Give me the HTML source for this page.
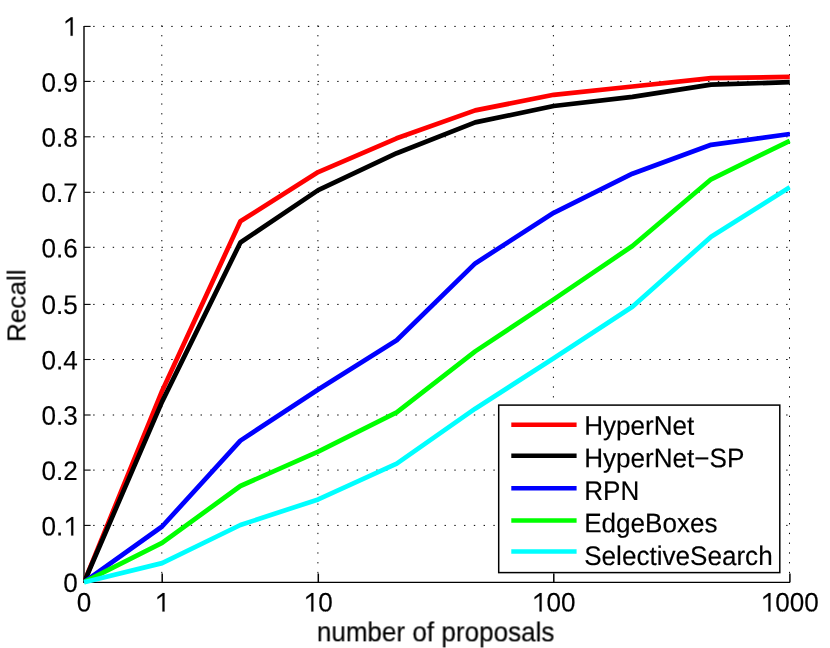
<!DOCTYPE html>
<html><head><meta charset="utf-8"><title>Recall vs number of proposals</title>
<style>
html,body{margin:0;padding:0;background:#fff;}
body{width:830px;height:648px;overflow:hidden;}
svg{display:block;}
text{font-family:"Liberation Sans",sans-serif;fill:#000;}
g.t{filter:grayscale(1);stroke:#000;stroke-width:0.15px;}
</style></head><body>
<svg width="830" height="648" viewBox="0 0 830 648">
<rect width="830" height="648" fill="#fff"/>
<g stroke="#000" stroke-width="1" fill="none">
<line x1="93.2" y1="26.4" x2="790.4" y2="26.4" stroke-dasharray="1.4 8.36"/>
<line x1="93.2" y1="81.4" x2="790.4" y2="81.4" stroke-dasharray="1.4 8.36"/>
<line x1="93.2" y1="136.8" x2="790.4" y2="136.8" stroke-dasharray="1.4 8.36"/>
<line x1="93.2" y1="192.3" x2="790.4" y2="192.3" stroke-dasharray="1.4 8.36"/>
<line x1="93.2" y1="247.3" x2="790.4" y2="247.3" stroke-dasharray="1.4 8.36"/>
<line x1="93.2" y1="304.4" x2="790.4" y2="304.4" stroke-dasharray="1.4 8.36"/>
<line x1="93.2" y1="359.5" x2="790.4" y2="359.5" stroke-dasharray="1.4 8.36"/>
<line x1="93.2" y1="415.0" x2="790.4" y2="415.0" stroke-dasharray="1.4 8.36"/>
<line x1="93.2" y1="470.1" x2="790.4" y2="470.1" stroke-dasharray="1.4 8.36"/>
<line x1="93.2" y1="525.4" x2="790.4" y2="525.4" stroke-dasharray="1.4 8.36"/>
<line x1="161.8" y1="25.3" x2="161.8" y2="581.2" stroke-dasharray="1.3 8.46"/>
<line x1="317.9" y1="25.3" x2="317.9" y2="581.2" stroke-dasharray="1.3 8.46"/>
<line x1="553.4" y1="25.3" x2="553.4" y2="581.2" stroke-dasharray="1.3 8.46"/>
<line x1="789.5" y1="25.3" x2="789.5" y2="581.2" stroke-dasharray="1.3 8.46"/>
</g>
<line x1="84" y1="25.9" x2="84" y2="582.7" stroke="#000" stroke-width="1.4"/>
<line x1="83.3" y1="582.4" x2="790.1" y2="582.4" stroke="#000" stroke-width="1.15"/>
<g stroke="#000" stroke-width="1.1">
<line x1="84.1" y1="26.4" x2="90.6" y2="26.4"/>
<line x1="84.1" y1="81.4" x2="90.6" y2="81.4"/>
<line x1="84.1" y1="136.8" x2="90.6" y2="136.8"/>
<line x1="84.1" y1="192.3" x2="90.6" y2="192.3"/>
<line x1="84.1" y1="247.3" x2="90.6" y2="247.3"/>
<line x1="84.1" y1="304.4" x2="90.6" y2="304.4"/>
<line x1="84.1" y1="359.5" x2="90.6" y2="359.5"/>
<line x1="84.1" y1="415.0" x2="90.6" y2="415.0"/>
<line x1="84.1" y1="470.1" x2="90.6" y2="470.1"/>
<line x1="84.1" y1="525.4" x2="90.6" y2="525.4"/>
<line x1="162.2" y1="582.2" x2="162.2" y2="573.5" stroke-width="1.5"/>
<line x1="318.3" y1="582.2" x2="318.3" y2="573.5" stroke-width="1.5"/>
<line x1="553.8" y1="582.2" x2="553.8" y2="573.5" stroke-width="1.5"/>
<line x1="789.9" y1="582.2" x2="789.9" y2="573.5" stroke-width="1.5"/>
</g>
<clipPath id="c"><rect x="83.4" y="0" width="707.1" height="586"/></clipPath>
<g fill="none" stroke-width="4.7" stroke-linejoin="round" stroke-linecap="butt" clip-path="url(#c)">
<polyline stroke="#ff0000" points="84.1,582.2 162.1,390.9 240.4,221.3 318.2,172.1 396.7,138.3 475.2,110.4 553.7,94.8 632.4,86.5 711.1,78.1 789.8,76.9"/>
<polyline stroke="#000000" points="84.1,582.2 162.1,401.6 240.4,242.5 318.2,190.1 396.7,153.2 475.2,122.4 553.7,106.0 632.4,96.9 711.1,84.6 789.8,82.2"/>
<polyline stroke="#0000ff" points="84.1,582.2 162.1,526.5 240.4,440.6 318.2,389.5 396.7,340.3 475.2,263.4 553.7,212.8 632.4,173.7 711.1,144.8 789.8,134.0"/>
<polyline stroke="#00ff00" points="84.1,582.2 162.1,542.9 240.4,486.0 318.2,451.7 396.7,412.4 475.2,351.4 553.7,299.4 632.4,246.0 711.1,179.3 789.8,140.8"/>
<polyline stroke="#00ffff" points="84.1,582.2 162.1,563.1 240.4,525.0 318.2,499.4 396.7,463.7 475.2,408.7 553.7,358.3 632.4,306.8 711.1,236.8 789.8,187.3"/>
</g>
<g class="t" font-size="26.1">
<path transform="translate(62.98,35.85) scale(0.012744,-0.013126)" d="M595,0 L595,1200 L205,935 L205,1115 L620,1409 L763,1409 L763,0 Z" vector-effect="non-scaling-stroke"/>
<text transform="translate(41.42,91.70) rotate(0.03) scale(1,1.03)">0.9</text>
<text transform="translate(41.42,146.70) rotate(0.03) scale(1,1.03)">0.8</text>
<text transform="translate(41.42,202.05) rotate(0.03) scale(1,1.03)">0.7</text>
<text transform="translate(41.42,257.60) rotate(0.03) scale(1,1.03)">0.6</text>
<text transform="translate(41.42,313.95) rotate(0.03) scale(1,1.03)">0.5</text>
<text transform="translate(41.42,369.60) rotate(0.03) scale(1,1.03)">0.4</text>
<text transform="translate(41.42,424.70) rotate(0.03) scale(1,1.03)">0.3</text>
<text transform="translate(41.42,479.95) rotate(0.03) scale(1,1.03)">0.2</text>
<text transform="translate(41.42,535.60) rotate(0.03) scale(1,1.03)">0.</text>
<path transform="translate(63.58,535.60) scale(0.012744,-0.013126)" d="M595,0 L595,1200 L205,935 L205,1115 L620,1409 L763,1409 L763,0 Z" vector-effect="non-scaling-stroke"/>
<text transform="translate(63.18,591.90) rotate(0.03) scale(1,1.03)">0</text>
<text transform="translate(76.84,611.55) rotate(0.03) scale(1,1.03)">0</text>
<path transform="translate(154.84,611.55) scale(0.012744,-0.013126)" d="M595,0 L595,1200 L205,935 L205,1115 L620,1409 L763,1409 L763,0 Z" vector-effect="non-scaling-stroke"/>
<path transform="translate(303.68,611.55) scale(0.012744,-0.013126)" d="M595,0 L595,1200 L205,935 L205,1115 L620,1409 L763,1409 L763,0 Z" vector-effect="non-scaling-stroke"/>
<text transform="translate(318.20,611.55) rotate(0.03) scale(1,1.03)">0</text>
<path transform="translate(531.93,611.55) scale(0.012744,-0.013126)" d="M595,0 L595,1200 L205,935 L205,1115 L620,1409 L763,1409 L763,0 Z" vector-effect="non-scaling-stroke"/>
<text transform="translate(546.44,611.55) rotate(0.03) scale(1,1.03)">00</text>
<path transform="translate(760.77,611.55) scale(0.012744,-0.013126)" d="M595,0 L595,1200 L205,935 L205,1115 L620,1409 L763,1409 L763,0 Z" vector-effect="non-scaling-stroke"/>
<text transform="translate(775.28,611.55) rotate(0.03) scale(1,1.03)">000</text>
<text transform="translate(435.60,641.00) rotate(0.03) scale(1,1.025)" text-anchor="middle">number of proposals</text>
<text transform="translate(25.50,305.70) rotate(-89.97) scale(1,1.0)" text-anchor="middle">Recall</text>
</g>
<rect x="498.7" y="405.1" width="281.1" height="167.5" fill="#fff" stroke="#000" stroke-width="1.5"/>
<line x1="511.3" y1="424.75" x2="576.6" y2="424.75" stroke="#ff0000" stroke-width="4.5"/>
<line x1="511.3" y1="455.7" x2="576.6" y2="455.7" stroke="#000000" stroke-width="4.5"/>
<line x1="511.3" y1="488.2" x2="576.6" y2="488.2" stroke="#0000ff" stroke-width="4.5"/>
<line x1="511.3" y1="520.5" x2="576.6" y2="520.5" stroke="#00ff00" stroke-width="4.5"/>
<line x1="511.3" y1="551.6" x2="576.6" y2="551.6" stroke="#00ffff" stroke-width="4.5"/>
<g class="t" font-size="26.1">
<text transform="translate(584.20,434.80) rotate(0.03) scale(1,1.025)">HyperNet</text>
<text transform="translate(584.20,467.30) rotate(0.03) scale(1,1.025)">HyperNet−SP</text>
<text transform="translate(584.20,500.00) rotate(0.03) scale(1,1.025)">RPN</text>
<text transform="translate(584.20,532.20) rotate(0.03) scale(1,1.025)">EdgeBoxes</text>
<text transform="translate(584.20,565.00) rotate(0.03) scale(1,1.025)">SelectiveSearch</text>
</g>
</svg>
</body></html>
